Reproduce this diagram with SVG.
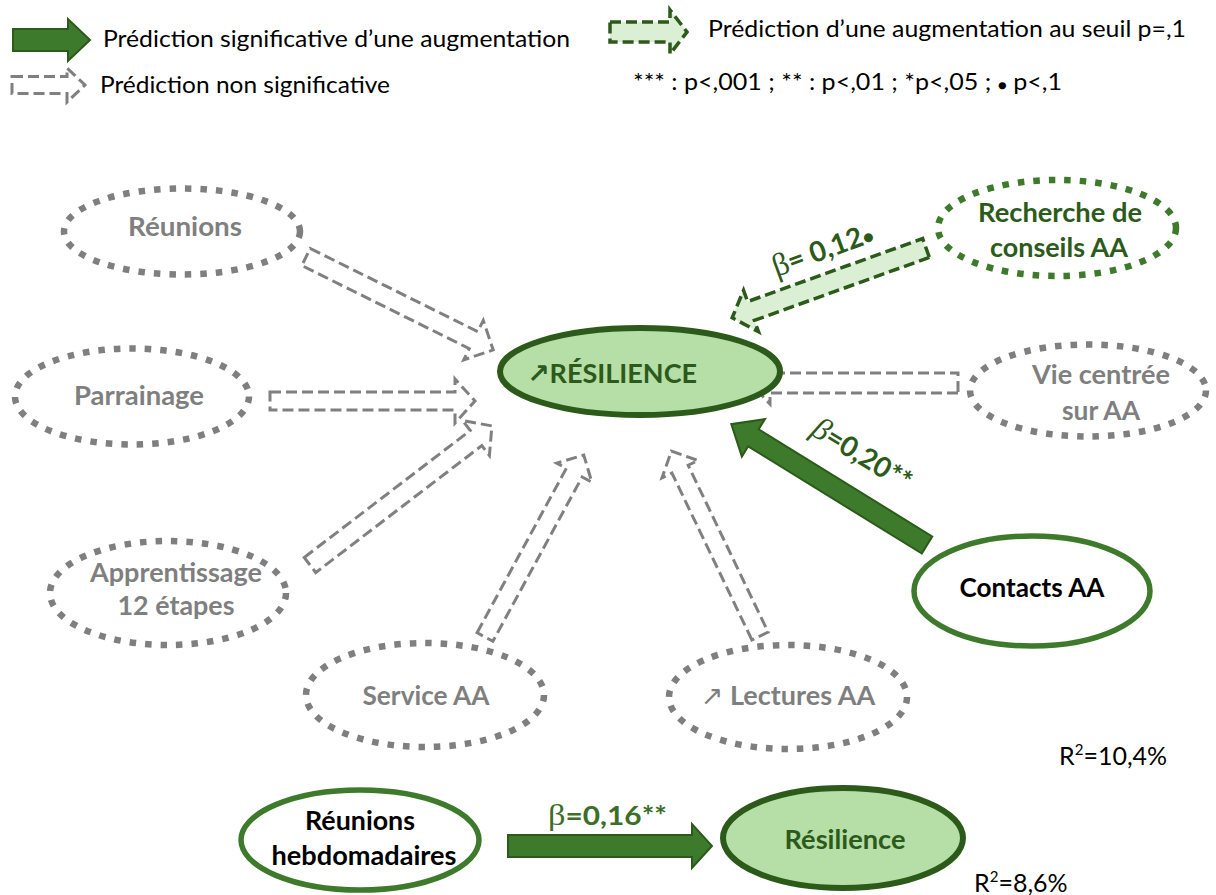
<svg xmlns="http://www.w3.org/2000/svg" width="1216" height="895" viewBox="0 0 1216 895">
<style>
text{font-family:Lato,"Liberation Sans","DejaVu Sans",sans-serif}
.gt{fill:#7f7f7f;font-weight:bold;font-size:27px;text-anchor:middle}
.dot{fill:none;stroke:#7f7f7f;stroke-width:6.5;stroke-dasharray:6.5 9}
.dotg{fill:none;stroke:#3e7a2b;stroke-width:6.5;stroke-dasharray:6.5 9}
.ha{fill:none;stroke:#808080;stroke-width:3;stroke-dasharray:11 5;stroke-linejoin:miter}
.la{fill:#dbefd4;stroke:#2c5a1a;stroke-width:3.5;stroke-dasharray:11 5}
.sa{fill:#3e7a2b;stroke:#2b5a1b;stroke-width:2}
.leg{font-size:23px;fill:#000}
.bk{fill:#000;font-weight:bold;font-size:27px;text-anchor:middle}
.dg{fill:#2c5a1a;font-weight:bold}
</style>

<!-- legend -->
<g id="legend">
  <path class="sa" d="M0,-11 L55,-11 L55,-21 L77,0 L55,21 L55,11 L0,11 Z" transform="translate(13,40)"/>
  <text class="leg" x="103" y="47" textLength="467" lengthAdjust="spacingAndGlyphs">Prédiction significative d’une augmentation</text>
  <path class="ha" d="M0,-8.5 L55,-8.5 L55,-17 L73,0 L55,17 L55,8.5 L0,8.5 Z" transform="translate(12,85)"/>
  <text class="leg" x="100" y="93" textLength="290" lengthAdjust="spacingAndGlyphs">Prédiction non significative</text>
  <path class="la" d="M0,-10 L60,-10 L60,-22 L77,0 L60,22 L60,10 L0,10 Z" transform="translate(610,32)"/>
  <text class="leg" x="708" y="37" textLength="478" lengthAdjust="spacingAndGlyphs">Prédiction d’une augmentation au seuil p=,1</text>
  <text class="leg" x="633" y="90" font-size="21" textLength="429" lengthAdjust="spacingAndGlyphs">*** : p&lt;,001 ; ** : p&lt;,01 ; *p&lt;,05 ; <tspan font-size="14">●</tspan> p&lt;,1</text>
</g>

<!-- connectors -->
<g id="connectors">
  <path class="ha" d="M0,-9.5 L187,-9.5 L187,-22 L209,0 L187,22 L187,9.5 L0,9.5 Z" transform="translate(306,257) rotate(26.4)"/>
  <path class="ha" d="M0,-9 L185,-9 L185,-22 L205,0 L185,22 L185,9 L0,9 Z" transform="translate(270,401)"/>
  <path class="ha" d="M0,-9.5 L209,-9.5 L209,-22 L229,0 L209,22 L209,9.5 L0,9.5 Z" transform="translate(310,565) rotate(-37.4)"/>
  <path class="ha" d="M0,-9 L187,-9 L187,-20 L207,0 L187,20 L187,9 L0,9 Z" transform="translate(485,637) rotate(-61.5)"/>
  <path class="ha" d="M0,-9 L185,-9 L185,-20 L205,0 L185,20 L185,9 L0,9 Z" transform="translate(760,636) rotate(-115.6)"/>
  <path class="ha" d="M0,-10 L188,-10 L188,-21 L208,0 L188,21 L188,10 L0,10 Z" transform="translate(958,383) rotate(180)"/>
  <path class="la" d="M0,-10 L186,-10 L186,-22 L206,0 L186,22 L186,10 L0,10 Z" transform="translate(926,248) rotate(160.2)"/>
  <path class="sa" d="M0,-10 L204,-10 L204,-22 L230,0 L204,22 L204,10 L0,10 Z" transform="translate(927,545) rotate(-148.3)"/>
  <path class="sa" d="M0,-11 L184,-11 L184,-22 L204,0 L184,22 L184,11 L0,11 Z" transform="translate(508,846)"/>
  <text class="dg" font-size="28" transform="translate(826,259) rotate(-20)" text-anchor="middle"><tspan font-family="Liberation Serif,serif" font-weight="normal" font-size="32">β</tspan>= 0,12<tspan font-size="18">●</tspan></text>
  <text class="dg" font-size="28" transform="translate(857,463) rotate(31.5)" text-anchor="middle"><tspan font-family="Liberation Serif,serif" font-style="italic" font-weight="normal" font-size="32">β</tspan>=0,20**</text>
  <text font-size="26" font-weight="bold" fill="#3c6e29" x="548" y="825" textLength="119" lengthAdjust="spacingAndGlyphs"><tspan font-family="Liberation Serif,serif" font-weight="normal" font-size="30">β</tspan>=0,16**</text>
</g>

<!-- nodes -->
<g id="reunions">
  <ellipse class="dot" cx="182" cy="231.5" rx="118" ry="43"/>
  <text class="gt" x="185" y="236" textLength="114" lengthAdjust="spacingAndGlyphs">Réunions</text>
</g>
<g id="parrainage">
  <ellipse class="dot" cx="132" cy="396.5" rx="117" ry="48"/>
  <text class="gt" x="139" y="405" textLength="130" lengthAdjust="spacingAndGlyphs">Parrainage</text>
</g>
<g id="apprentissage">
  <ellipse class="dot" cx="168" cy="593" rx="118" ry="52"/>
  <text class="gt" x="176" y="582" textLength="172" lengthAdjust="spacingAndGlyphs">Apprentissage</text>
  <text class="gt" x="176" y="615" textLength="117" lengthAdjust="spacingAndGlyphs">12 étapes</text>
</g>
<g id="service">
  <ellipse class="dot" cx="425" cy="695" rx="119" ry="52"/>
  <text class="gt" x="426" y="705" textLength="127" lengthAdjust="spacingAndGlyphs">Service AA</text>
</g>
<g id="lectures">
  <ellipse class="dot" cx="788" cy="697" rx="119" ry="52"/>
  <text class="gt" x="788" y="705" text-anchor="middle"><tspan font-family="DejaVu Sans,sans-serif" font-weight="normal" font-size="27">↗</tspan> Lectures AA</text>
</g>
<g id="vie">
  <ellipse class="dot" cx="1088" cy="390.5" rx="118" ry="46"/>
  <text class="gt" x="1101" y="384" textLength="138" lengthAdjust="spacingAndGlyphs">Vie centrée</text>
  <text class="gt" x="1101" y="420" textLength="78" lengthAdjust="spacingAndGlyphs">sur AA</text>
</g>
<g id="recherche">
  <ellipse class="dotg" cx="1057" cy="228" rx="119" ry="48"/>
  <text class="dg" font-size="27" text-anchor="middle" x="1060" y="222" textLength="164" lengthAdjust="spacingAndGlyphs">Recherche de</text>
  <text class="dg" font-size="27" text-anchor="middle" x="1059" y="257" textLength="138" lengthAdjust="spacingAndGlyphs">conseils AA</text>
</g>
<g id="resilience">
  <ellipse cx="640" cy="371.5" rx="140" ry="43.5" fill="#b6dea7" stroke="#2c5a1a" stroke-width="6"/>
  <text class="dg" font-size="27" text-anchor="middle" x="612" y="383"><tspan font-family="DejaVu Sans,sans-serif" font-size="27">↗</tspan>RÉSILIENCE</text>
</g>
<g id="contacts">
  <ellipse cx="1032" cy="591" rx="118" ry="55" fill="#fff" stroke="#3e7a2b" stroke-width="5.5"/>
  <text class="bk" x="1032" y="597" textLength="145" lengthAdjust="spacingAndGlyphs">Contacts AA</text>
</g>
<g id="reunions-hebdo">
  <ellipse cx="360" cy="840" rx="119" ry="50" fill="#fff" stroke="#3e7a2b" stroke-width="5.5"/>
  <text class="bk" x="360" y="830" textLength="110" lengthAdjust="spacingAndGlyphs">Réunions</text>
  <text class="bk" x="364" y="865" textLength="185" lengthAdjust="spacingAndGlyphs">hebdomadaires</text>
</g>
<g id="resilience-bas">
  <ellipse cx="843" cy="838" rx="120" ry="50" fill="#b6dea7" stroke="#2c5a1a" stroke-width="6"/>
  <text class="dg" font-size="27" text-anchor="middle" x="845" y="849" textLength="121" lengthAdjust="spacingAndGlyphs">Résilience</text>
</g>

<g id="r2">
  <text x="1059" y="765" font-size="25" fill="#000">R<tspan font-size="15" dy="-10">2</tspan><tspan dy="10">=10,4%</tspan></text>
  <text x="974" y="892" font-size="25" fill="#000">R<tspan font-size="15" dy="-10">2</tspan><tspan dy="10">=8,6%</tspan></text>
</g>
</svg>
